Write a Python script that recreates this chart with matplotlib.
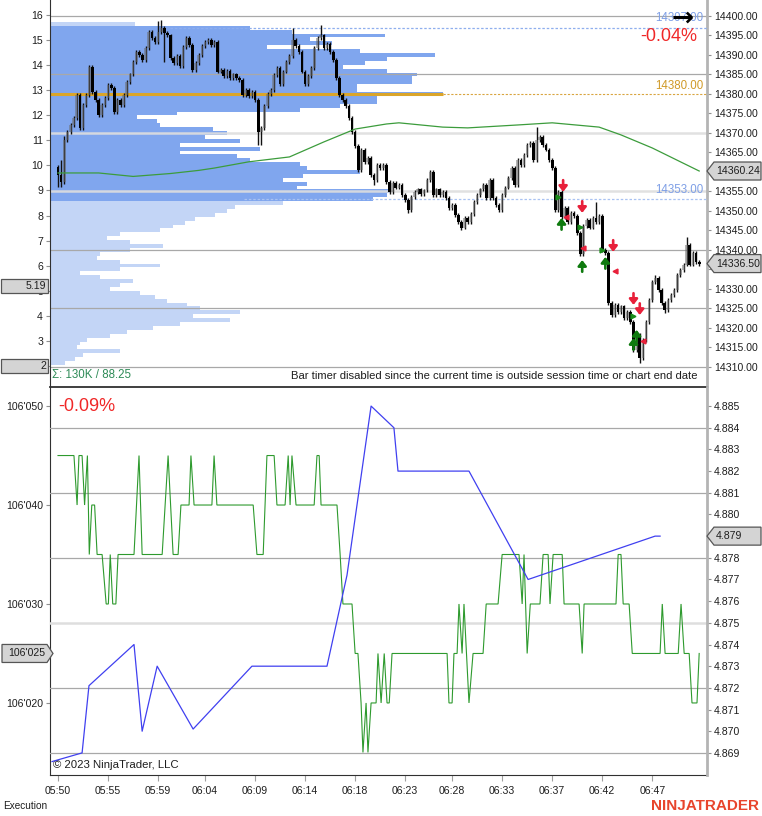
import numpy as np
import matplotlib
matplotlib.use("Agg")
import matplotlib.pyplot as plt
from matplotlib.patches import Polygon
from matplotlib.transforms import blended_transform_factory

plt.rcParams["font.family"] = ["Liberation Sans", "DejaVu Sans"]

# ---------------- price bars (NQ, bar index on x) ----------------
first_open = 14361.25
closes = [
    14359.25, 14357.5, 14368.25, 14370.25, 14372.0, 14373.75, 14379.75, 14371.25, 14377.25, 14379.75,
    14387.0, 14380.5, 14378.5, 14374.5, 14377.25, 14379.0, 14382.25, 14381.5, 14375.25, 14378.5,
    14377.25, 14379.75, 14383.0, 14385.0, 14388.25, 14390.75, 14390.0, 14388.75, 14391.75, 14396.0,
    14394.25, 14393.25, 14396.0, 14397.0, 14395.75, 14395.0, 14389.25, 14388.0, 14389.75, 14387.25,
    14392.0, 14394.25, 14392.5, 14386.25, 14388.0, 14390.0, 14392.25, 14393.25, 14393.75, 14392.5,
    14393.25, 14385.75, 14386.25, 14384.5, 14386.0, 14384.0, 14385.0, 14384.0, 14383.5, 14379.75,
    14381.0, 14379.5, 14380.5, 14378.5, 14370.25, 14371.25, 14377.0, 14380.0, 14381.0, 14384.75,
    14386.75, 14382.5, 14385.75, 14388.25, 14389.75, 14393.75, 14392.25, 14390.75, 14385.75, 14382.5,
    14384.5, 14386.75, 14391.75, 14394.25, 14395.0, 14391.75, 14392.75, 14390.75, 14388.75, 14384.0,
    14379.75, 14378.5, 14377.0, 14373.75, 14370.25, 14366.75, 14360.5, 14365.75, 14362.5, 14363.5,
    14359.25, 14358.0, 14361.75, 14361.0, 14361.75, 14357.5, 14354.75, 14357.25, 14356.0, 14356.75,
    14354.0, 14352.75, 14350.25, 14353.5, 14354.75, 14355.5, 14354.25, 14355.25, 14358.0, 14360.0,
    14354.0, 14355.5, 14354.0, 14354.75, 14353.25, 14350.75, 14351.5, 14349.0, 14347.25, 14345.75,
    14348.25, 14347.25, 14349.25, 14352.25, 14354.0, 14355.5, 14356.75, 14353.25, 14358.0, 14353.25,
    14351.5, 14350.25, 14354.0, 14356.0, 14358.5, 14361.0, 14356.75, 14363.0, 14361.75, 14364.25,
    14367.0, 14367.5, 14363.0, 14368.25, 14369.0, 14367.0, 14365.75, 14363.0, 14361.0, 14350.25,
    14354.75, 14348.5, 14350.75, 14347.25, 14349.5, 14348.75, 14344.25, 14339.0, 14346.25, 14347.75,
    14345.75, 14348.25, 14347.25, 14348.75, 14340.0, 14339.25, 14326.5, 14323.25, 14326.0, 14324.0,
    14325.5, 14322.5, 14324.0, 14321.5, 14314.25, 14318.25, 14312.25, 14317.0, 14321.5, 14327.25,
    14331.75, 14332.75, 14329.75, 14326.5, 14324.5, 14327.25, 14328.5, 14329.75, 14333.5, 14334.75,
    14336.25, 14341.25, 14336.25, 14339.25, 14337.0, 14336.5,
]
# bars whose wicks reach well beyond the body
wick_high = {1: 14363.0, 2: 14369.25, 32: 14398.75, 33: 14399.0, 75: 14397.0, 84: 14397.75,
             153: 14371.5, 172: 14352.25, 191: 14333.5, 201: 14343.25}
wick_low = {0: 14356.25, 1: 14356.25, 34: 14388.25, 64: 14367.0, 65: 14367.0, 101: 14356.75,
            112: 14349.5, 129: 14345.0, 167: 14338.5, 186: 14311.0, 194: 14323.75}

# moving average (bar, value)
sma_bar = [0, 13, 24, 36, 45, 50, 61, 74, 85, 95, 105, 109, 123, 131, 147, 158, 173, 180, 190, 199, 205]
sma_val = [14359.74, 14359.74, 14358.85, 14359.6, 14360.4, 14361.0, 14362.6, 14363.85, 14367.7, 14371.0,
           14372.3, 14372.6, 14371.5, 14371.3, 14372.05, 14372.6, 14371.5, 14369.5, 14366.15, 14362.6,
           14360.24]

# volume profile, one row per point
prof_low = 14311
prof_vol = [
    150, 250, 330, 700, 270, 300, 370, 600, 770, 1030,
    1300, 1800, 1430, 1900, 1500, 1370, 1170, 1050, 900, 600,
    700, 830, 500, 300, 700, 1100, 700, 470, 500, 800,
    1130, 800, 570, 700, 1100, 1230, 1350, 1450, 1650, 1770,
    1850, 2330, 3230, 3370, 3400, 2470, 2570, 2330, 2530, 3100,
    2570, 2500, 2000, 1870, 1300, 2100, 1300, 1900, 1550, 1770,
    1630, 1100, 1070, 870, 1270, 2500, 2900, 3270, 3270, 3930,
    3070, 3070, 3620, 3620, 3670, 3370, 2930, 3150, 3370, 3850,
    3100, 2170, 2820, 2600, 3350, 2420, 2000, 850,
]
val_price, vah_price, poc_price = 14353, 14397, 14380

# executions
sell_arrow_bar = [161.5, 167.6, 177.5, 184, 186]
sell_arrow_px = [14354.9, 14349.5, 14339.5, 14325.9, 14323.3]
buy_arrow_bar = [161, 167.6, 175, 185, 184]
buy_arrow_px = [14348.2, 14337.4, 14338.2, 14319.5, 14317.4]
buy_fill_bar = [160, 167, 174, 184]
buy_fill_px = [14353.6, 14345.9, 14340.0, 14323.1]
sell_fill_bar = [162.5, 168, 178, 187]
sell_fill_px = [14348.5, 14340.5, 14334.6, 14316.7]

# ---------------- lower panel ----------------
# bond future quote (displayed as 106'0xx) and yield
bond_bar = [0, 5.1, 6.1, 6.7, 7.7, 8.5, 9.4, 10.0, 10.8, 11.7, 12.5, 14.1, 15.4, 16.1, 16.7, 17.5, 18.5, 19.2,
            24.3, 25.9, 26.9, 33.3, 35.2, 36.8, 38.4, 39.3, 41.9, 42.5, 43.5, 49.2, 49.9, 50.8, 62.4, 63.6,
            65.6, 66.8, 69.1, 70.0, 72.6, 73.6, 74.2, 74.8, 76.1, 81.9, 82.8, 83.5, 84.1, 89.2, 90.2, 91.1,
            94.0, 95.0, 95.9, 96.9, 97.5, 98.5, 99.1, 100.1, 101.7, 102.3, 103.3, 104.3, 105.2, 105.9, 106.8,
            124.4, 125.0, 126.0, 126.6, 127.6, 128.2, 129.2, 129.8, 131.4, 132.7, 135.9, 136.9, 140.7, 142.0,
            147.4, 148.4, 149.0, 150.0, 151.0, 154.1, 155.1, 156.7, 157.3, 158.3, 161.2, 161.8, 166.6, 167.6,
            168.2, 178.4, 179.1, 180.0, 180.7, 182.6, 183.6, 192.5, 193.2, 194.1, 198.3, 199.2, 200.2, 201.8,
            202.7, 204.3, 205.0]
bond_q = [45, 45, 40, 45, 45, 40, 45, 35, 40, 40, 35, 35, 30, 30, 35, 30, 30, 35,
          35, 45, 35, 35, 45, 35, 35, 40, 40, 45, 40, 40, 45, 40, 40, 35,
          35, 45, 45, 40, 40, 45, 40, 45, 40, 40, 45, 45, 40, 40, 35, 30,
          30, 25, 25, 20, 15, 20, 15, 20, 20, 25, 20, 25, 20, 20, 25,
          25, 20, 20, 25, 25, 30, 25, 30, 20, 25, 25, 30, 30, 35,
          35, 30, 35, 25, 30, 30, 35, 35, 30, 35, 35, 30, 30, 25,
          30, 30, 35, 35, 30, 30, 25, 25, 30, 25, 25, 30, 25, 25,
          20, 20, 25]
bond_val = [106 + q / 1000 for q in bond_q]

yield_bar = [-1.9, 7.7, 9.9, 24.3, 26.9, 31.7, 43.2, 62.0, 86.0, 92.4, 100.1, 107.4, 108.7, 131.4, 150.3, 190.9, 192.5]
yield_val = [4.8686, 4.8690, 4.8721, 4.8740, 4.8700, 4.8730, 4.8701, 4.8730, 4.8730, 4.8772, 4.8850,
             4.8840, 4.8820, 4.8820, 4.8770, 4.8790, 4.8790]

time_bar = [0, 16, 32, 47, 63, 79, 95, 111, 126, 142, 158, 174, 190]
time_lbl = ["05:50", "05:55", "05:59", "06:04", "06:09", "06:14", "06:18",
            "06:23", "06:28", "06:33", "06:37", "06:42", "06:47"]

# ---------------- figure ----------------
W, H = 762, 816
fig = plt.figure(figsize=(W / 100, H / 100), dpi=100)


def box(x0, y0, x1, y1):
    return [x0 / W, 1 - y1 / H, (x1 - x0) / W, (y1 - y0) / H]


GRID = "#A8A8A8"
LIGHT = "#DEDEDE"
TXT = "#1E1E1E"

ax = fig.add_axes(box(50, 0, 707, 386))
axl = ax.twinx()
ax2 = fig.add_axes(box(50, 387, 707, 775))
ax2r = ax2.twinx()

xlim = (-2.56, 207.5)
for a in (ax, ax2):
    a.set_xlim(*xlim)

# --- top panel
ax.set_ylim(14305.1, 14404.1)
axl.set_ylim(1.2, 16.6)
trans = blended_transform_factory(ax.transAxes, ax.transData)

prof_price = np.arange(prof_low, prof_low + len(prof_vol))
prof_w = np.array(prof_vol) / 6570.0
prof_col = ["#80A6EE" if val_price <= p <= vah_price else "#C3D5F6" for p in prof_price]
ax.barh(prof_price, prof_w, height=1.0, left=0, color=prof_col, linewidth=0,
        transform=trans, zorder=1)

for lvl in (14400, 14385, 14340, 14325, 14310):
    ax.axhline(lvl, color=GRID, lw=0.9, zorder=2)
for lvl in (14370, 14355):
    ax.axhline(lvl, color=LIGHT, lw=1.8, zorder=2, alpha=0.9)

poc_w = prof_w[poc_price - prof_low]
ax.plot([0, poc_w], [poc_price, poc_price], transform=trans, color="#DAA52A", lw=2.2, zorder=3,
        solid_capstyle="butt")
ax.plot([poc_w, 1], [poc_price, poc_price], transform=trans, color="#D9A540", lw=0.8,
        ls=(0, (2, 1.5)), zorder=3)
for p, c in ((vah_price, "#8EAEEE"), (val_price, "#A9C2F2")):
    ax.plot([prof_w[p - prof_low] * 0.6, 1], [p, p], transform=trans, color=c, lw=0.9,
            ls=(0, (2, 1.5)), zorder=3)
ax.text(0.995, poc_price + 0.5, f"{poc_price:.2f}", transform=trans, ha="right", va="bottom",
        color="#D09A28", fontsize=8.3, zorder=8)
ax.text(0.995, vah_price + 0.9, f"{vah_price:.2f}", transform=trans, ha="right", va="bottom",
        color="#7E9FE6", fontsize=8.3, zorder=8)
ax.text(0.995, val_price + 0.8, f"{val_price:.2f}", transform=trans, ha="right", va="bottom",
        color="#7E9FE6", fontsize=8.3, zorder=8)

opens = [first_open] + closes[:-1]
idx = np.arange(len(closes))
o = np.array(opens)
c = np.array(closes)
hi = np.maximum(o, c) + 0.5
lo = np.minimum(o, c) - 0.5
for k, v in wick_high.items():
    hi[k] = v
for k, v in wick_low.items():
    lo[k] = v
up = c >= o
ax.vlines(idx, lo, hi, color="#111111", lw=1.0, zorder=4)
body = np.maximum(np.abs(c - o), 0.3)
ax.bar(idx[up], body[up], bottom=np.minimum(o, c)[up], width=0.85,
       color=(0.42, 0.42, 0.42, 0.5), linewidth=0, zorder=5)
ax.bar(idx[~up], body[~up], bottom=np.minimum(o, c)[~up], width=0.85,
       color="#000000", linewidth=0, zorder=5)

ax.plot(sma_bar, sma_val, color="#3C9C3C", lw=0.9, zorder=6)

RED, GREEN = "#E8203A", "#0E7A0E"
for b, p in zip(sell_arrow_bar, sell_arrow_px):
    ax.annotate("", xy=(b, p), xytext=(b, p + 3.0),
                arrowprops=dict(arrowstyle="-|>,head_width=0.25,head_length=0.32", lw=1.9,
                                color=RED, shrinkA=0, shrinkB=0), zorder=7)
for b, p in zip(buy_arrow_bar, buy_arrow_px):
    ax.annotate("", xy=(b, p), xytext=(b, p - 3.0),
                arrowprops=dict(arrowstyle="-|>,head_width=0.25,head_length=0.32", lw=1.9,
                                color=GREEN, shrinkA=0, shrinkB=0), zorder=7)
ax.plot(buy_fill_bar, buy_fill_px, ">", color="#1A8A1A", ms=3.5, zorder=7, ls="none")
ax.plot(sell_fill_bar, sell_fill_px, "<", color=RED, ms=3.5, zorder=7, ls="none")

# axes decorations top
ax.yaxis.tick_right()
ax.set_yticks(np.arange(14310, 14401, 5))
ax.set_yticklabels([f"{v:.2f}" for v in np.arange(14310, 14401, 5)])
ax.tick_params(axis="y", length=3, width=0.8, color="#909090", labelcolor=TXT, labelsize=7.6, pad=2)
ax.set_xticks([])
axl.yaxis.tick_left()
axl.set_yticks(range(2, 17))
axl.tick_params(axis="y", length=3, width=0.8, color="#909090", labelcolor=TXT, labelsize=7.6, pad=2)
for a in (ax, axl):
    a.spines["top"].set_visible(False)
    a.spines["bottom"].set_visible(False)
axl.spines["right"].set_visible(False)
ax.spines["left"].set_visible(False)
axl.spines["left"].set_color("#303030")
ax.spines["right"].set_color("#B4B4B4")
ax.spines["right"].set_linewidth(2)

ax.text(0.003, 0.012, "\u03a3: 130K / 88.25", transform=ax.transAxes, color="#2E8B57",
        fontsize=8.3, ha="left", va="bottom", zorder=9)
ax.text(0.985, 0.012, "Bar timer disabled since the current time is outside session time or chart end date",
        transform=ax.transAxes, color=TXT, fontsize=8.1, ha="right", va="bottom", zorder=9)
ax.text(0.985, 0.905, "-0.04%", transform=ax.transAxes, color="#F02828", fontsize=13,
        ha="right", va="center", zorder=9)
ax.text(0.963, 0.953, "\u2192", transform=ax.transAxes, color="#000000", fontsize=19,
        family="DejaVu Sans", fontweight="bold", ha="center", va="center", zorder=9)

# --- bottom panel
b_lo, b_hi = 106.01272, 106.051925
r_lo, r_hi = 4.86798, 4.88588
ax2.set_ylim(b_lo, b_hi)
ax2r.set_ylim(r_lo, r_hi)
for lvl in (4.884, 4.881, 4.878, 4.872, 4.869):
    ax2r.axhline(lvl, color=GRID, lw=0.9, zorder=1)
ax2r.axhline(4.875, color=LIGHT, lw=1.8, zorder=1)
# quote series is drawn on the yield axes (so it sits under the yield line) in quote units
ax2r.plot(bond_bar, [r_lo + (v - b_lo) * (r_hi - r_lo) / (b_hi - b_lo) for v in bond_val],
          color="#2E9A2E", lw=0.8, zorder=2, solid_joinstyle="miter")
ax2r.plot(yield_bar, yield_val, color="#4040F0", lw=0.9, zorder=3)

q_ticks = [106.02, 106.03, 106.04, 106.05]
ax2.set_yticks(q_ticks)
ax2.set_yticklabels([f"106'{round((v - 106) * 1000):03d}" for v in q_ticks])
ax2.tick_params(axis="y", length=3, width=0.8, color="#909090", labelcolor=TXT, labelsize=7.6, pad=2)
y_ticks = np.round(np.arange(4.869, 4.8855, 0.001), 3)
ax2r.set_yticks(y_ticks)
ax2r.set_yticklabels([f"{v:.3f}" for v in y_ticks])
ax2r.tick_params(axis="y", length=3, width=0.8, color="#909090", labelcolor=TXT, labelsize=7.6, pad=2)
ax2.set_xticks(time_bar)
ax2.set_xticklabels(time_lbl)
ax2.tick_params(axis="x", length=4, width=0.8, color="#A0A0A0", labelcolor=TXT, labelsize=7.6, pad=4)
ax2r.spines["left"].set_visible(False)
ax2r.spines["top"].set_visible(False)
ax2r.spines["bottom"].set_visible(False)
ax2.spines["right"].set_visible(False)
ax2.spines["left"].set_color("#303030")
ax2.spines["bottom"].set_color("#303030")
ax2.spines["top"].set_color("#303030")
ax2.spines["top"].set_linewidth(1.3)
ax2r.spines["right"].set_color("#B4B4B4")
ax2r.spines["right"].set_linewidth(2)

ax2.text(0.012, 0.95, "-0.09%", transform=ax2.transAxes, color="#F02828", fontsize=13,
         ha="left", va="center", zorder=9)
ax2.text(0.004, 0.012, "\u00a9 2023 NinjaTrader, LLC", transform=ax2.transAxes, color=TXT,
         fontsize=8.2, ha="left", va="bottom", zorder=9)


# --- price flags on the axes
def to_fig(pts):
    return [(x / W, y / H) for x, y in pts]


def right_flag(a, value, text):
    y = a.transData.transform((0, value))[1]
    pts = [(707, y), (714, y + 9), (761, y + 9), (761, y - 9), (714, y - 9)]
    fig.add_artist(Polygon(to_fig(pts), closed=True, fc="#D4D4D4", ec="#555555", lw=0.9,
                           transform=fig.transFigure, zorder=10))
    fig.text(716 / W, y / H, text, ha="left", va="center", fontsize=7.6, color=TXT, zorder=11)


def left_flag(a, value, text, arrow):
    y = a.transData.transform((0, value))[1]
    if arrow:
        pts = [(2, y + 9), (47, y + 9), (53, y), (47, y - 9), (2, y - 9)]
    else:
        pts = [(1, y + 7), (48, y + 7), (48, y - 7), (1, y - 7)]
    fig.add_artist(Polygon(to_fig(pts), closed=True, fc="#D4D4D4", ec="#555555", lw=0.9,
                           transform=fig.transFigure, zorder=10))
    tx = 46 if not arrow else 45
    fig.text(tx / W, y / H, text, ha="right", va="center", fontsize=7.6, color=TXT, zorder=11)


right_flag(ax, sma_val[-1], f"{sma_val[-1]:.2f}")
right_flag(ax, closes[-1], f"{closes[-1]:.2f}")
right_flag(ax2r, yield_val[-1], f"{yield_val[-1]:.3f}")
left_flag(axl, 5.19, "5.19", False)
left_flag(axl, 2, "2", False)
left_flag(ax2, bond_val[-1], f"106'{bond_q[-1]:03d}", True)

fig.text(3 / W, 1 - 806 / H, "Execution", fontsize=7.2, color=TXT, ha="left", va="center")
fig.text(759 / W, 1 - 806 / H, "NINJATRADER", fontsize=11, color="#E8452C", fontweight="bold",
         ha="right", va="center")

fig.savefig("out.png", dpi=100)
